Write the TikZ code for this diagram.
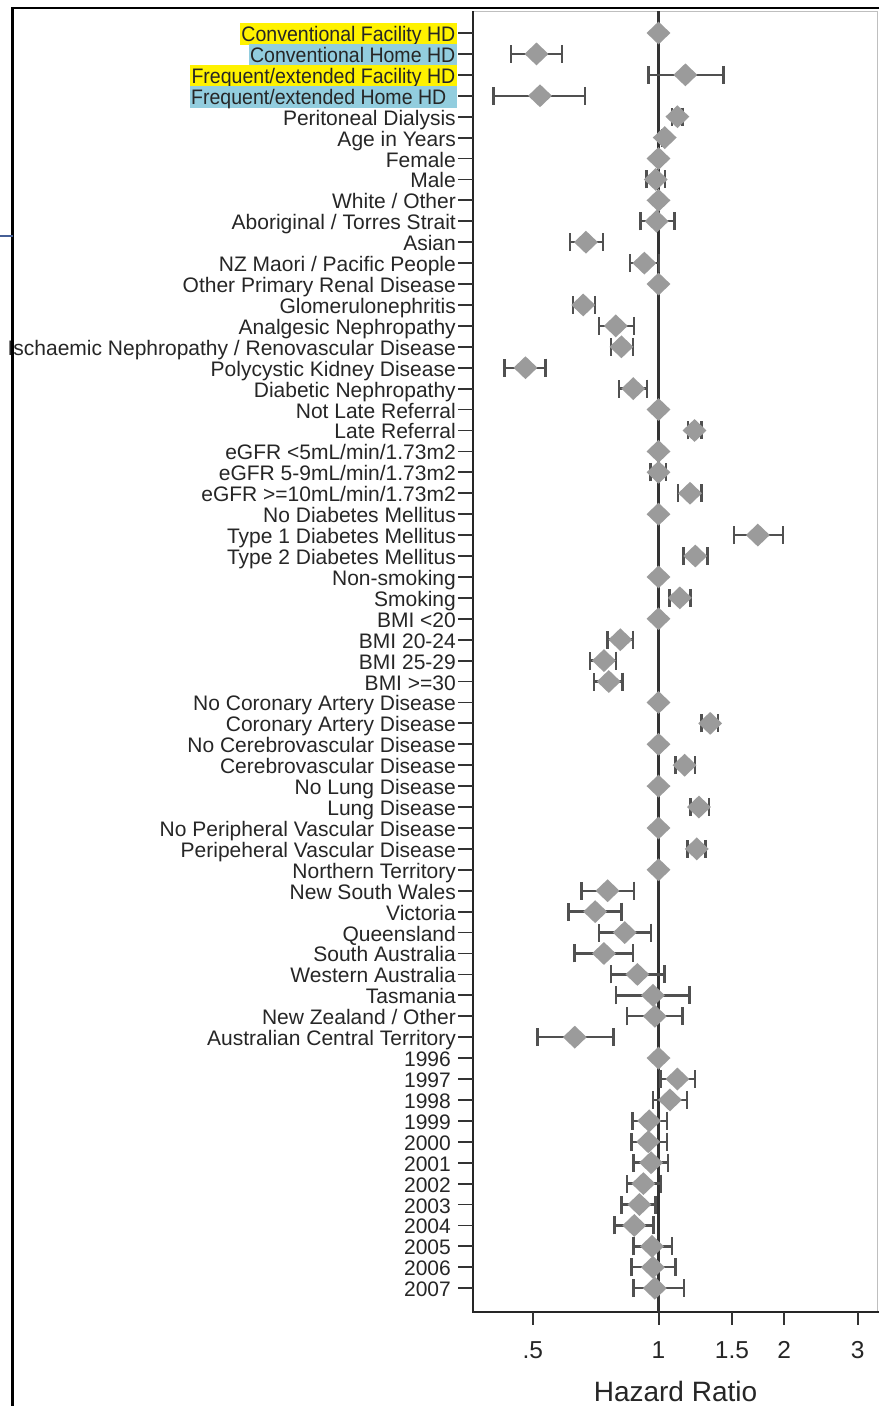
\documentclass[tikz,border=0pt]{standalone}
\usepackage{fontspec}
\setmainfont{Liberation Sans}
\newfontfamily\narrowsans[FakeStretch=0.93]{Liberation Sans}
\usetikzlibrary{arrows.meta,shapes.geometric,positioning}

\definecolor{markgray}{RGB}{155,155,155}
\definecolor{cigray}{RGB}{80,80,80}
\definecolor{hlyellow}{RGB}{255,242,0}
\definecolor{hlblue}{RGB}{146,205,222}
\definecolor{slideblue}{RGB}{70,95,150}

% log axis: HR=1 at x=658.5, 181.2pt per unit of ln(HR); rows 20.92pt apart
\newcommand{\hrx}[1]{658.5+181.2*ln(#1)}
\newcommand{\rowy}[1]{33+20.92*(#1-1)}

\begin{document}
\begin{tikzpicture}[
    x=1pt, y=-1pt,
    rowlabel/.style={anchor=base east, inner sep=0pt, text=black!85, font=\fontsize{21}{24}\selectfont},
    hllabel/.style={anchor=base east, inner xsep=1.5pt, inner ysep=0pt, text height=18.5pt, text depth=3.5pt, text=black!85, font=\narrowsans\fontsize{21}{24}\selectfont},
    ytick/.style={black!80, line width=1.8pt},
    xtick/.style={black!80, line width=2pt},
    ticklabel/.style={anchor=base, inner sep=0pt, text=black!85, font=\fontsize{24.5}{28}\selectfont},
    ci/.style={cigray, line width=2.4pt, {Bar[width=18pt]}-{Bar[width=18pt]}},
    estmark/.style={diamond, fill=markgray, inner sep=0pt, minimum width=24pt, minimum height=23pt}
]
\fill[white] (0,0) rectangle (879,1406);
\useasboundingbox (0,0) rectangle (879,1406);

% plot region and axes
\draw[black!25, line width=1pt] (472.5,11.5) -- (877,11.5) -- (877,1312);
\draw[black!85, line width=2pt] (472.5,11) -- (472.5,1312) -- (879,1312);
\draw[black!80, line width=2.5pt] ({\hrx{1}},11) -- ({\hrx{1}},1312);

% highlighted treatment groups
\node[hllabel, fill=hlyellow] (lab1) at (457,{\rowy{1}+8.5}) {Conventional Facility HD};
\node[hllabel, fill=hlblue] (lab2) at (457,{\rowy{2}+8.5}) {Conventional Home HD};
\node[hllabel, fill=hlyellow] (lab3) at (457,{\rowy{3}+8.5}) {Frequent/extended Facility HD};
\node[hllabel, fill=hlblue] (lab4) at (457,{\rowy{4}+8.5}) {Frequent/extended Home HD\hspace*{9pt}};

% covariate labels
\foreach \lbl [count=\i from 5] in {Peritoneal Dialysis, Age in Years, Female, Male, White / Other,
    Aboriginal / Torres Strait, Asian, NZ Maori / Pacific People, Other Primary Renal Disease,
    Glomerulonephritis, Analgesic Nephropathy, Ischaemic Nephropathy / Renovascular Disease,
    Polycystic Kidney Disease, Diabetic Nephropathy, Not Late Referral, Late Referral,
    eGFR <5mL/min/1.73m2, eGFR 5-9mL/min/1.73m2, eGFR >=10mL/min/1.73m2,
    No Diabetes Mellitus, Type 1 Diabetes Mellitus, Type 2 Diabetes Mellitus, Non-smoking,
    Smoking, BMI <20, BMI 20-24, BMI 25-29, BMI >=30, No Coronary Artery Disease,
    Coronary Artery Disease, No Cerebrovascular Disease, Cerebrovascular Disease,
    No Lung Disease, Lung Disease, No Peripheral Vascular Disease,
    Peripeheral Vascular Disease, Northern Territory, New South Wales, Victoria,
    Queensland, South Australia, Western Australia, Tasmania, New Zealand / Other,
    Australian Central Territory}
    \node[rowlabel] (lab\i) at (456,{\rowy{\i}+8.5}) {\lbl};
\foreach \yr [count=\i from 50] in {1996,...,2007}
    \node[rowlabel] (lab\i) at (451,{\rowy{\i}+8.5}) {\yr};

\foreach \i in {1,...,61}
    \draw[ytick] (458,{\rowy{\i}}) -- (472.5,{\rowy{\i}});

% confidence intervals and estimates
\foreach \i/\est/\lo/\hi in {2/0.51/0.44/0.59, 3/1.16/0.94/1.44, 4/0.52/0.40/0.67,
    5/1.11/1.07/1.15, 6/1.035/1.03/1.04, 8/0.985/0.93/1.045, 10/0.99/0.90/1.10,
    11/0.67/0.61/0.74, 12/0.925/0.85/1.01, 14/0.66/0.62/0.71, 15/0.79/0.715/0.88,
    16/0.815/0.765/0.875, 17/0.48/0.425/0.54, 18/0.87/0.80/0.945, 20/1.22/1.17/1.275,
    22/1.0/0.95/1.05, 23/1.19/1.105/1.275, 25/1.73/1.505/2.0, 26/1.225/1.14/1.32,
    28/1.125/1.055/1.2, 30/0.81/0.75/0.875, 31/0.74/0.68/0.795, 32/0.76/0.695/0.825,
    34/1.33/1.26/1.4, 36/1.155/1.09/1.23, 38/1.25/1.185/1.33, 40/1.235/1.165/1.305,
    42/0.755/0.65/0.88, 43/0.705/0.605/0.82, 44/0.83/0.715/0.965, 45/0.74/0.625/0.875,
    46/0.89/0.765/1.04, 47/0.97/0.785/1.195, 48/0.98/0.835/1.15, 49/0.63/0.51/0.785,
    51/1.11/1.005/1.23, 52/1.065/0.965/1.18, 53/0.95/0.86/1.055, 54/0.945/0.855/1.055,
    55/0.96/0.865/1.06, 56/0.92/0.835/1.02, 57/0.90/0.81/0.99, 58/0.875/0.78/0.98,
    59/0.965/0.865/1.085, 60/0.97/0.855/1.105, 61/0.98/0.865/1.16} {
    \draw[ci] ({\hrx{\lo}},{\rowy{\i}}) -- ({\hrx{\hi}},{\rowy{\i}});
    \node[estmark] (est\i) at ({\hrx{\est}},{\rowy{\i}}) {};
}
% reference categories
\foreach \i in {1,7,9,13,19,21,24,27,29,33,35,37,39,41,50}
    \node[estmark] (est\i) at ({\hrx{1}},{\rowy{\i}}) {};

% hazard ratio axis
\foreach \t/\lbl [count=\k] in {0.5/.5, 1/1, 1.5/1.5, 2/2, 3/3} {
    \draw[xtick] ({\hrx{\t}},1312) -- ({\hrx{\t}},1325);
    \node[ticklabel] (xt\k) at ({\hrx{\t}},1358) {\lbl};
}
\node[anchor=base, inner sep=0pt, text=black!85, font=\fontsize{28}{32}\selectfont] (axistitle) at (675.5,1401.5) {Hazard Ratio};

% slide frame
\draw[black, line width=2.5pt] (879,8) -- (12.5,8) -- (12.5,1406);
\draw[slideblue, line width=2pt] (0,236) -- (12.5,236);
\end{tikzpicture}
\end{document}
